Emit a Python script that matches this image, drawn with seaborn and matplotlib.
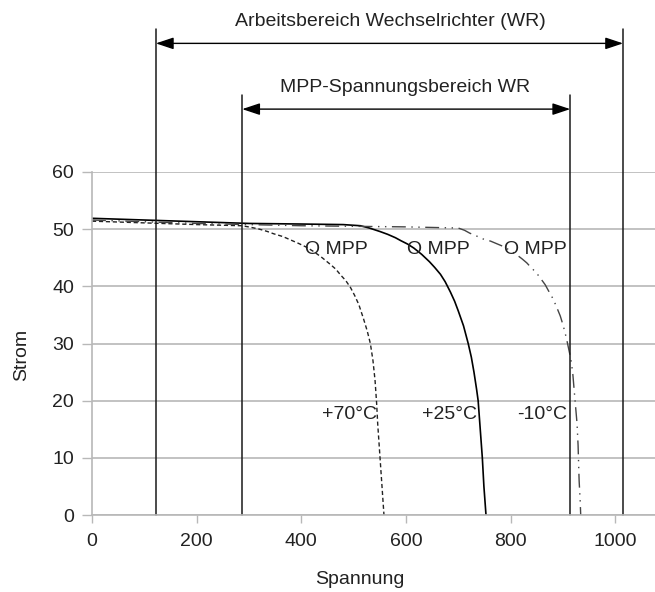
"""
plot.py

Strom-Spannungs-Kennlinien eines PV-Generators bei drei Temperaturen,
mit Arbeitsbereich und MPP-Spannungsbereich des Wechselrichters.
"""

import matplotlib
matplotlib.use("Agg")
import matplotlib.pyplot as plt
import seaborn as sns

# Kennlinie +25 °C (durchgezogen)
u_25 = [0, 100, 200, 300, 400, 480, 513, 530, 550, 565, 580, 590, 603, 615,
        630, 645, 655, 666, 675, 685, 693, 700, 710, 719, 725, 730, 735, 738,
        742, 746, 749, 753]
i_25 = [51.9, 51.6, 51.3, 51.0, 50.9, 50.8, 50.6, 50.2, 49.6, 49.1, 48.5,
        48.0, 47.4, 46.7, 45.6, 44.3, 43.3, 42.1, 40.8, 39.0, 37.4, 35.7,
        33.1, 30.0, 27.6, 25.0, 22.0, 20.0, 15.0, 10.0, 5.0, 0.0]

# Kennlinie +70 °C (gestrichelt)
u_70 = [0, 100, 200, 287, 305, 320, 335, 347, 365, 380, 395, 411, 425, 440,
        456, 466, 475, 485, 494, 502, 510, 519, 526, 532, 537, 541, 544, 546,
        549, 552, 555, 558]
i_70 = [51.4, 51.1, 50.8, 50.6, 50.3, 50.0, 49.6, 49.2, 48.7, 48.1, 47.5,
        46.8, 46.0, 45.0, 43.8, 43.0, 42.0, 41.0, 39.8, 38.4, 36.8, 34.3,
        32.2, 30.0, 27.0, 23.5, 19.5, 16.0, 12.0, 8.0, 4.0, 0.0]

# Kennlinie -10 °C (strichpunktiert)
u_m10 = [0, 100, 200, 300, 400, 500, 600, 700, 712, 722, 735, 747, 762, 775,
         788, 800, 812, 822, 831, 839, 849, 858, 866, 872, 880, 887, 895, 899,
         903, 907, 910, 913, 916, 919, 921, 924, 927, 929, 930, 931, 933, 934]
i_m10 = [51.6, 51.3, 51.0, 50.8, 50.6, 50.5, 50.4, 50.2, 49.8, 49.3, 48.8,
         48.3, 47.9, 47.4, 46.9, 46.2, 45.5, 44.8, 44.1, 43.3, 42.4, 41.3,
         40.3, 39.3, 38.0, 36.6, 34.8, 33.6, 32.3, 30.8, 29.5, 28.2, 26.8,
         24.6, 22.4, 19.2, 16.0, 12.2, 9.0, 6.0, 2.5, 0.0]

# Bereiche des Wechselrichters
wr_range = [122, 1015]
mpp_range = [287, 914]
wr_label = "Arbeitsbereich Wechselrichter (WR)"
mpp_label = "MPP-Spannungsbereich WR"

# Beschriftungen an den Kurven
temp_labels = ["+70°C", "+25°C", "-10°C"]
temp_label_u = [545, 736, 908]
mpp_u = [407, 602, 787]

x_ticks = [0, 200, 400, 600, 800, 1000]
y_ticks = [0, 10, 20, 30, 40, 50, 60]

FS = 14

sns.set_theme(style="whitegrid")
plt.rcParams["font.family"] = ["Liberation Sans", "DejaVu Sans"]
plt.rcParams["font.size"] = FS

fig = plt.figure(figsize=(6.55, 5.92), dpi=100)
ax = fig.add_axes([92 / 655, 77 / 592, 563 / 655, 343 / 592])

grid_col = "#b8b8b8"
text_col = "#222222"

sns.lineplot(x=u_25, y=i_25, ax=ax, color="black", lw=1.2,
             sort=False, estimator=None)
sns.lineplot(x=u_70, y=i_70, ax=ax, color="#222222", lw=1.0,
             linestyle=(0, (3, 2)), sort=False, estimator=None)
sns.lineplot(x=u_m10, y=i_m10, ax=ax, color="#444444", lw=1.0,
             linestyle=(0, (10, 4, 1, 4, 1, 4)), sort=False, estimator=None)

ax.set_xlim(0, 1076)
ax.set_ylim(0, 60)
ax.set_xticks(x_ticks)
ax.set_yticks(y_ticks)
ax.grid(axis="y", color=grid_col, lw=1.2)
ax.grid(axis="x", visible=False)
for side in ["top", "right"]:
    ax.spines[side].set_visible(False)
for side in ["left", "bottom"]:
    ax.spines[side].set_color(grid_col)
    ax.spines[side].set_linewidth(1.2)
ax.tick_params(axis="y", length=7, width=1, color=grid_col, pad=6,
               left=True, labelsize=FS, labelcolor=text_col)
ax.tick_params(axis="x", length=6, width=1, color=grid_col, pad=7,
               bottom=True, labelsize=FS, labelcolor=text_col)
ax.set_xlabel("")
ax.set_ylabel("")

# Bereichslinien mit Pfeilen ueber dem Diagramm
for (u0, u1), top, arrow_y in [(wr_range, 85.0, 82.5), (mpp_range, 73.4, 71.0)]:
    for u in (u0, u1):
        ax.plot([u, u], [0, top], color="#1a1a1a", lw=1.1, clip_on=False)
    ax.annotate("", xy=(u1, arrow_y), xytext=(u0, arrow_y),
                arrowprops=dict(arrowstyle="<|-|>,head_length=0.6,head_width=0.2",
                                color="black", lw=1.0, mutation_scale=18,
                                shrinkA=0, shrinkB=0),
                annotation_clip=False)
fig.text(390 / 655, 1 - 21 / 592, wr_label, ha="center", va="center",
         fontsize=FS, color=text_col)
fig.text(405 / 655, 1 - 87 / 592, mpp_label, ha="center", va="center",
         fontsize=FS, color=text_col)

# MPP und Temperaturen
for u in mpp_u:
    ax.text(u, 46.4, "O MPP", ha="left", va="center", fontsize=FS,
            color=text_col)
for u, lab in zip(temp_label_u, temp_labels):
    ax.text(u, 17.6, lab, ha="right", va="center", fontsize=FS,
            color=text_col)

fig.text(360 / 655, 1 - 580 / 592, "Spannung", ha="center", va="center",
         fontsize=FS, color=text_col)
fig.text(22 / 655, 1 - 355 / 592, "Strom", ha="center", va="center",
         rotation=90, fontsize=FS, color=text_col)

fig.savefig("out.png", dpi=100)
plt.close(fig)
